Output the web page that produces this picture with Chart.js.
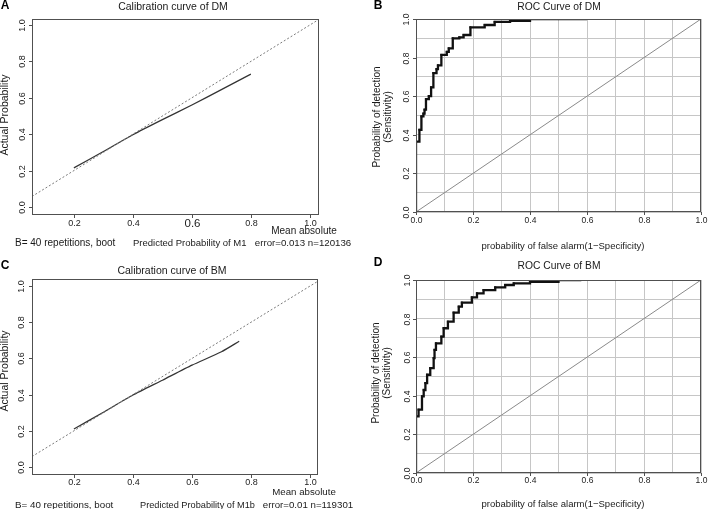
<!DOCTYPE html>
<html>
<head>
<meta charset="utf-8">
<title>Calibration and ROC curves</title>
<script src="https://cdn.jsdelivr.net/npm/chart.js@4.4.1/dist/chart.umd.min.js"></script>
<style>
    body { margin: 0; background: #fff; }
    #wrap { position: relative; width: 708px; height: 509px; }
    canvas { position: absolute; }
</style>
</head>
<body>
<div id="wrap">
    <canvas id="chartA" width="354" height="255" style="left:0;top:0"></canvas>
    <canvas id="chartB" width="354" height="255" style="left:354px;top:0"></canvas>
    <canvas id="chartC" width="354" height="254" style="left:0;top:255px"></canvas>
    <canvas id="chartD" width="354" height="254" style="left:354px;top:255px"></canvas>
</div>
<script>
// calibration curves (predicted vs actual probability)
const calPredA = [0.2, 0.3, 0.4, 0.5, 0.6, 0.7, 0.8];
const calActualA = [0.215, 0.305, 0.397, 0.48, 0.56, 0.645, 0.73];
const calPredC = [0.2, 0.3, 0.4, 0.5, 0.6, 0.7, 0.76];
const calActualC = [0.21, 0.303, 0.398, 0.48, 0.563, 0.637, 0.695];
const idealLine = [0, 1.1]; // y = x

// ROC curves (start of each step)
const fprB = [0, 0, 0.012, 0.019, 0.026, 0.03, 0.035, 0.045, 0.053, 0.061, 0.072, 0.077, 0.089, 0.108, 0.115, 0.129, 0.152, 0.167, 0.191, 0.241, 0.276, 0.33, 0.40, 0.60];
const tprB = [0, 0.365, 0.426, 0.495, 0.51, 0.53, 0.585, 0.6, 0.646, 0.72, 0.74, 0.76, 0.814, 0.83, 0.848, 0.9, 0.905, 0.917, 0.957, 0.969, 0.985, 0.99, 1.0, 1.0];
const tailB = [0.62, 0.66, 0.70, 0.73, 0.74, 0.81, 0.84, 0.85, 0.96, 0.98];

const fprD = [0, 0, 0.009, 0.021, 0.027, 0.033, 0.039, 0.05, 0.062, 0.065, 0.07, 0.089, 0.097, 0.112, 0.132, 0.15, 0.161, 0.196, 0.214, 0.237, 0.278, 0.313, 0.343, 0.4, 0.5, 0.58];
const tprD = [0, 0.293, 0.328, 0.397, 0.43, 0.466, 0.509, 0.543, 0.595, 0.638, 0.672, 0.707, 0.75, 0.784, 0.831, 0.862, 0.883, 0.91, 0.931, 0.948, 0.962, 0.974, 0.983, 0.99, 1.0, 1.0];
const tailD = [0.54, 0.59, 0.67, 0.74, 0.75, 0.8, 0.84, 0.86, 0.98];

// tick labels
const calXTicks = [0.2, 0.4, 0.6, 0.8, 1.0];
const calYTicks = [0.0, 0.2, 0.4, 0.6, 0.8, 1.0];
const rocTicks = [0.0, 0.2, 0.4, 0.6, 0.8, 1.0];

const FONT = '"Liberation Sans", Arial, sans-serif';

const toXY = (xs, ys) => xs.map((x, i) => ({ x: x, y: ys[i] }));

// box, ticks and all the texts, R style
const panelText = {
    id: "panelText",
    afterDraw(chart, args, o) {
        const ctx = chart.ctx;
        const a = chart.chartArea;
        const xs = chart.scales.x;
        const ys = chart.scales.y;
        ctx.save();
        ctx.strokeStyle = "#505050";
        ctx.lineWidth = 1;
        ctx.strokeRect(a.left + 0.5, a.top + 0.5, a.right - a.left - 1, a.bottom - a.top - 1);
        ctx.fillStyle = "#222";

        // x ticks
        o.xTicks.forEach((v, i) => {
            const px = Math.round(xs.getPixelForValue(v)) + 0.5;
            ctx.beginPath();
            ctx.moveTo(px, a.bottom);
            ctx.lineTo(px, a.bottom + 3);
            ctx.stroke();
            const size = o.xTickSizes ? o.xTickSizes[i] : o.tickSize;
            ctx.font = size + "px " + FONT;
            ctx.textAlign = "center";
            ctx.textBaseline = "middle";
            ctx.fillText(v.toFixed(1), px, o.xTickY);
        });

        // y ticks, rotated like R
        o.yTicks.forEach(v => {
            const py = Math.round(ys.getPixelForValue(v)) + 0.5;
            ctx.beginPath();
            ctx.moveTo(a.left, py);
            ctx.lineTo(a.left - 3, py);
            ctx.stroke();
            ctx.save();
            ctx.translate(o.yTickX, py);
            ctx.rotate(-Math.PI / 2);
            ctx.font = o.tickSize + "px " + FONT;
            ctx.textAlign = "center";
            ctx.textBaseline = "middle";
            ctx.fillText(v.toFixed(1), 0, 0);
            ctx.restore();
        });

        // titles, labels, notes
        o.texts.forEach(t => {
            ctx.save();
            ctx.translate(t.x, t.y);
            if (t.rot) ctx.rotate(-Math.PI / 2);
            ctx.font = (t.bold ? "bold " : "") + t.size + "px " + FONT;
            ctx.fillStyle = t.bold ? "#000" : "#1a1a1a";
            ctx.textAlign = t.align || "center";
            ctx.textBaseline = "middle";
            ctx.fillText(t.text, 0, 0);
            ctx.restore();
        });
        ctx.restore();
    }
};

function calChart(id, pred, actual, xMax, yMax, pad, text) {
    return new Chart(document.getElementById(id), {
        type: "scatter",
        data: {
            datasets: [{
                data: toXY(idealLine, idealLine),
                showLine: true,
                borderColor: "#7a7a7a",
                borderWidth: 1,
                borderDash: [2, 2],
                pointRadius: 0
            }, {
                data: toXY(pred, actual),
                showLine: true,
                borderColor: "#333",
                borderWidth: 1.2,
                pointRadius: 0,
                tension: 0.2
            }]
        },
        options: {
            responsive: false,
            animation: false,
            layout: { padding: pad },
            plugins: {
                legend: { display: false },
                tooltip: { enabled: false },
                panelText: text
            },
            scales: {
                x: { type: "linear", display: false, min: 0.058, max: xMax },
                y: { type: "linear", display: false, min: -0.044, max: yMax }
            }
        },
        plugins: [panelText]
    });
}

function rocChart(id, fpr, tpr, tail, pad, text) {
    const gridOpts = { color: "#c6c6c6", drawTicks: false };
    return new Chart(document.getElementById(id), {
        type: "scatter",
        data: {
            datasets: [{
                data: toXY(idealLine, idealLine),
                showLine: true,
                borderColor: "#8a8a8a",
                borderWidth: 1,
                pointRadius: 0
            }, {
                data: toXY(fpr, tpr),
                showLine: true,
                stepped: "before",
                borderColor: "#111",
                borderWidth: 2.3,
                pointStyle: "rect",
                pointRadius: 1.4,
                backgroundColor: "#111",
                pointBorderWidth: 0
            }, {
                data: tail.map(x => ({ x: x, y: 1.0 })),
                pointStyle: "rect",
                pointRadius: 1.3,
                backgroundColor: "#111",
                borderWidth: 0
            }]
        },
        options: {
            responsive: false,
            animation: false,
            layout: { padding: pad },
            plugins: {
                legend: { display: false },
                tooltip: { enabled: false },
                panelText: text
            },
            scales: {
                x: {
                    type: "linear", min: 0, max: 1,
                    grid: gridOpts, border: { display: false },
                    ticks: { display: false, stepSize: 0.1 }
                },
                y: {
                    type: "linear", min: 0, max: 1,
                    grid: gridOpts, border: { display: false },
                    ticks: { display: false, stepSize: 0.1 }
                }
            }
        },
        plugins: [panelText]
    });
}

calChart("chartA", calPredA, calActualA, 1.031, 1.033,
    { left: 32, top: 19, right: 35, bottom: 40 },
    {
        xTicks: calXTicks, yTicks: calYTicks, tickSize: 9,
        xTickSizes: [9, 9, 11.5, 9, 9], xTickY: 224, yTickX: 23,
        texts: [
            { text: "A", x: 5, y: 6, size: 12, bold: true },
            { text: "Calibration curve of DM", x: 173, y: 7, size: 10.5 },
            { text: "Actual Probability", x: 5, y: 115, size: 10.5, rot: true },
            { text: "B= 40 repetitions, boot", x: 15, y: 243, size: 10, align: "left" },
            { text: "Predicted Probability of M1", x: 133, y: 243, size: 9.5, align: "left" },
            { text: "Mean absolute", x: 304, y: 231, size: 10 },
            { text: "error=0.013 n=120136", x: 303, y: 243, size: 9.7 }
        ]
    });

rocChart("chartB", fprB, tprB, tailB,
    { left: 62, top: 19, right: 7, bottom: 43 },
    {
        xTicks: rocTicks, yTicks: rocTicks, tickSize: 8.5, xTickY: 221, yTickX: 53,
        texts: [
            { text: "B", x: 24, y: 6, size: 12, bold: true },
            { text: "ROC Curve of DM", x: 205, y: 7, size: 10.3 },
            { text: "Probability of detection", x: 23, y: 117, size: 10, rot: true },
            { text: "(Sensitivity)", x: 34, y: 117, size: 10, rot: true },
            { text: "probability of false alarm(1\u2212Specificity)", x: 209, y: 246, size: 9.5 }
        ]
    });

calChart("chartC", calPredC, calActualC, 1.027, 1.039,
    { left: 32, top: 24, right: 36, bottom: 34 },
    {
        xTicks: calXTicks, yTicks: calYTicks, tickSize: 9, xTickY: 228, yTickX: 22,
        texts: [
            { text: "C", x: 5, y: 11, size: 12, bold: true },
            { text: "Calibration curve of BM", x: 172, y: 16, size: 10.5 },
            { text: "Actual Probability", x: 5, y: 116, size: 10.5, rot: true },
            { text: "B= 40 repetitions, boot", x: 15, y: 250, size: 9.8, align: "left" },
            { text: "Predicted Probability of M1b", x: 140, y: 250, size: 9.2, align: "left" },
            { text: "Mean absolute", x: 304, y: 237, size: 9.7 },
            { text: "error=0.01 n=119301", x: 308, y: 250, size: 9.7 }
        ]
    });

rocChart("chartD", fprD, tprD, tailD,
    { left: 62, top: 25, right: 7, bottom: 36 },
    {
        xTicks: rocTicks, yTicks: rocTicks, tickSize: 8.5, xTickY: 226, yTickX: 54,
        texts: [
            { text: "D", x: 24, y: 8, size: 12, bold: true },
            { text: "ROC Curve of BM", x: 205, y: 11, size: 10.3 },
            { text: "Probability of detection", x: 22, y: 118, size: 10, rot: true },
            { text: "(Sensitivity)", x: 33, y: 118, size: 10, rot: true },
            { text: "probability of false alarm(1\u2212Specificity)", x: 209, y: 249, size: 9.5 }
        ]
    });
</script>
</body>
</html>
